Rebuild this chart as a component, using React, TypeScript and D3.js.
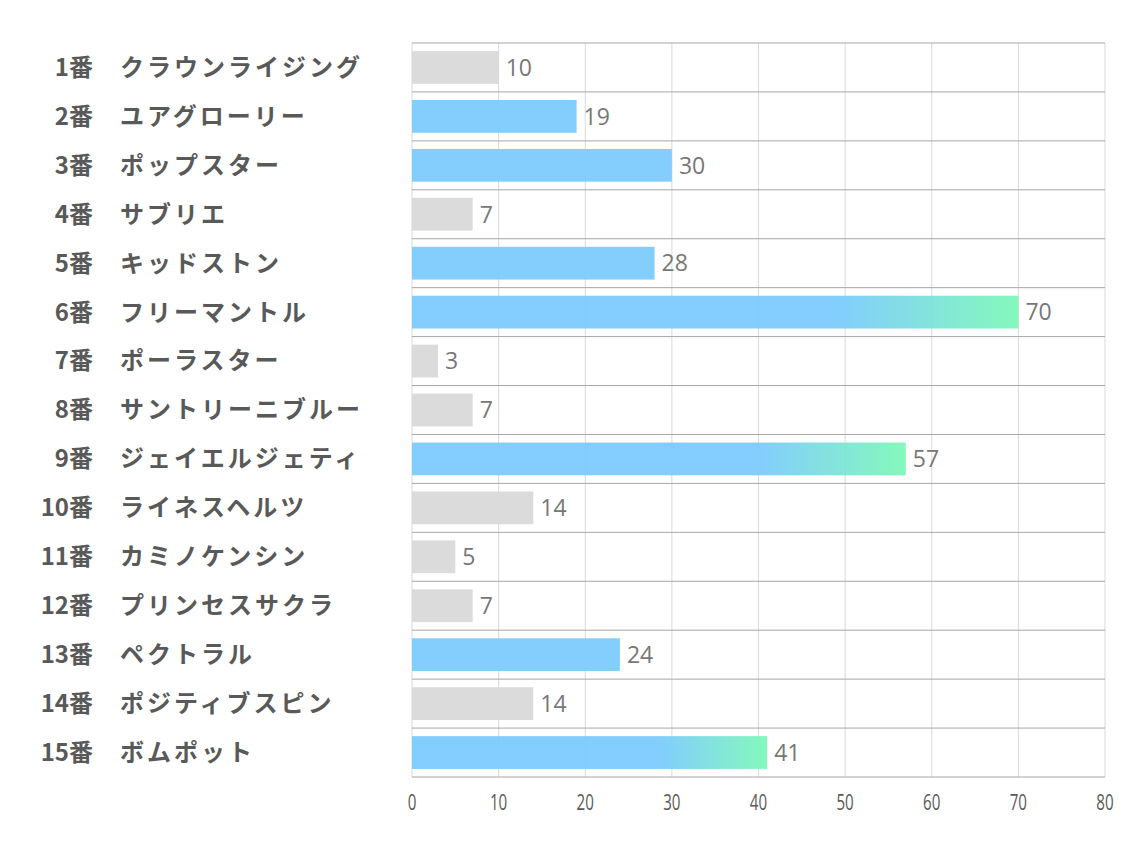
import { useEffect, useRef } from 'react';
import * as d3 from 'd3';

const numbers = ['1番', '2番', '3番', '4番', '5番', '6番', '7番', '8番', '9番', '10番', '11番', '12番', '13番', '14番', '15番'];
const names = [
  'クラウンライジング', 'ユアグローリー', 'ポップスター', 'サブリエ', 'キッドストン',
  'フリーマントル', 'ポーラスター', 'サントリーニブルー', 'ジェイエルジェティ', 'ライネスヘルツ',
  'カミノケンシン', 'プリンセスサクラ', 'ペクトラル', 'ポジティブスピン', 'ボムポット',
];
const values = [10, 19, 30, 7, 28, 70, 3, 7, 57, 14, 5, 7, 24, 14, 41];
const xTicks = [0, 10, 20, 30, 40, 50, 60, 70, 80];

const W = 1134;
const H = 850;
const JP = '"Noto Sans CJK JP", "Noto Sans", sans-serif';

export default function App() {
  const svgRef = useRef<SVGSVGElement>(null);

  useEffect(() => {
    if (!svgRef.current) return;
    const svg = d3.select(svgRef.current);
    svg.selectAll('*').remove();

    const left = 412, right = 1105, top = 43, bottom = 777;
    const x = d3.scaleLinear().domain([0, 80]).range([left, right]);
    const y = d3.scaleBand<number>().domain(d3.range(values.length)).range([top, bottom]).paddingInner(0.33).paddingOuter(0.165);
    const rowStep = (bottom - top) / values.length;

    // blue bar fading to green over its last 30%
    const defs = svg.append('defs');
    const grad = defs.append('linearGradient').attr('id', 'hot').attr('x1', 0).attr('x2', 1).attr('y1', 0).attr('y2', 0);
    grad.append('stop').attr('offset', '0%').attr('stop-color', '#7ccbfd');
    grad.append('stop').attr('offset', '70%').attr('stop-color', '#7ccbfd');
    grad.append('stop').attr('offset', '100%').attr('stop-color', '#7ef8b8');

    const g = svg.append('g');

    g.selectAll('.vgrid')
      .data(xTicks)
      .join('line')
      .attr('x1', d => x(d)).attr('x2', d => x(d))
      .attr('y1', top).attr('y2', bottom)
      .attr('stroke', '#d9d9d9').attr('stroke-width', 1);

    g.selectAll('.hgrid')
      .data(d3.range(values.length + 1))
      .join('line')
      .attr('x1', left).attr('x2', right)
      .attr('y1', d => top + d * rowStep).attr('y2', d => top + d * rowStep)
      .attr('stroke', '#a6a6a6').attr('stroke-width', 1);

    const fillFor = (v: number) => (v >= 40 ? 'url(#hot)' : v >= 15 ? '#7ccbfd' : '#d9d9d9');

    g.selectAll('.bar')
      .data(values)
      .join('rect')
      .attr('x', x(0))
      .attr('y', (_, i) => y(i)!)
      .attr('width', d => x(d) - x(0))
      .attr('height', y.bandwidth())
      .attr('fill', d => fillFor(d))
      .attr('opacity', 0.95);

    g.selectAll('.val')
      .data(values)
      .join('text')
      .attr('x', d => x(d) + 7)
      .attr('y', (_, i) => y(i)! + y.bandwidth() / 2)
      .attr('dy', '0.36em')
      .attr('fill', '#777777')
      .attr('font-size', 23)
      .attr('font-family', '"Open Sans", "Noto Sans", sans-serif')
      .text(d => d);

    g.selectAll('.num')
      .data(numbers)
      .join('text')
      .attr('x', 93)
      .attr('y', (_, i) => top + (i + 0.5) * rowStep)
      .attr('dy', '0.35em')
      .attr('text-anchor', 'end')
      .attr('fill', '#595959')
      .attr('font-weight', 'bold')
      .attr('font-size', 24)
      .attr('font-family', JP)
      .text(d => d);

    g.selectAll('.name')
      .data(names)
      .join('text')
      .attr('x', 120)
      .attr('y', (_, i) => top + (i + 0.5) * rowStep)
      .attr('dy', '0.35em')
      .attr('fill', '#595959')
      .attr('font-weight', 'bold')
      .attr('font-size', 24)
      .attr('letter-spacing', 3)
      .attr('font-family', JP)
      .text(d => d);

    // narrow axis numbers
    g.selectAll('.tick')
      .data(xTicks)
      .join('text')
      .attr('transform', d => `translate(${x(d)},810) scale(0.72,1)`)
      .attr('text-anchor', 'middle')
      .attr('fill', '#595959')
      .attr('font-size', 21)
      .attr('font-family', '"Open Sans", sans-serif')
      .text(d => d);
  }, []);

  return (
    <div style={{ position: 'absolute', left: 0, top: 0, width: W, height: H, background: '#fff' }}>
      <svg ref={svgRef} width={W} height={H} style={{ display: 'block' }} />
    </div>
  );
}
